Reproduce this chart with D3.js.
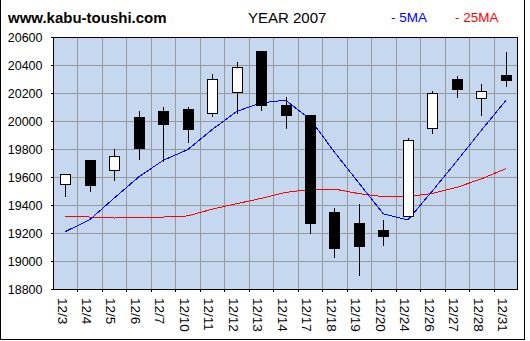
<!DOCTYPE html>
<html>
<head>
<meta charset="utf-8">
<script src="https://cdn.jsdelivr.net/npm/d3@7/dist/d3.min.js"></script>
<style>
  html, body { margin: 0; padding: 0; background: #fff; }
  svg { display: block; font-family: "Liberation Sans", Arial, sans-serif; }
</style>
</head>
<body>
<svg id="chart" width="530" height="341"></svg>
<script>
// Daily candles, December 2007
const dates = ["12/3","12/4","12/5","12/6","12/7","12/10","12/11","12/12","12/13","12/14",
               "12/17","12/18","12/19","12/20","12/24","12/26","12/27","12/28","12/31"];
const openVals  = [19550,19715,19643,20025,20065,20080,20057,20207,20500,20110,
                   20040,19345,19265,19215,19320,19947,20300,20160,20325];
const highVals  = [19625,19715,19800,20070,20100,20100,20338,20424,20500,20175,
                   20040,19380,19405,19295,19880,20216,20325,20265,20490];
const lowVals   = [19455,19490,19570,19725,19710,19840,20026,20052,20070,19940,
                   19190,19020,18895,19110,19320,19904,20165,20035,20245];
const closeVals = [19615,19540,19745,19805,19975,19940,20293,20379,20110,20040,
                   19270,19090,19105,19175,19860,20195,20225,20210,20290];
// Moving averages
const ma5  = [19210,19295,19449,19600,19719,19795,19938,20068,20130,20148,
              20015,19778,19557,19336,19293,19500,19714,19933,20145];
const ma25 = [19321,19314,19307,19314,19314,19322,19370,19409,19447,19490,
              19511,19514,19481,19459,19459,19483,19526,19586,19659];
const yTicks = [18800,19000,19200,19400,19600,19800,20000,20200,20400,20600];

const svg = d3.select("#chart");
const L = 53, R = 518, T = 37, B = 289;

const x = d3.scaleBand().domain(dates).range([L, R]).padding(0);
const y = d3.scaleLinear().domain([18800, 20600]).range([B, T]);
const cx = d => x(d) + x.bandwidth() / 2;

// outer frame
const frame = svg.append("g").attr("stroke", "#000").attr("stroke-width", 1).attr("shape-rendering", "crispEdges");
frame.append("line").attr("x1", 0.5).attr("x2", 0.5).attr("y1", 0).attr("y2", 340);
frame.append("line").attr("x1", 524.5).attr("x2", 524.5).attr("y1", 0).attr("y2", 340);
frame.append("line").attr("x1", 0).attr("x2", 525).attr("y1", 339.5).attr("y2", 339.5);

// plot background
svg.append("rect").attr("x", L).attr("y", T).attr("width", R - L).attr("height", B - T)
  .attr("fill", "#c6d7f0");

// grid
const grid = svg.append("g").attr("stroke", "#999").attr("stroke-width", 1).attr("shape-rendering", "crispEdges");
dates.slice(1).forEach(d => {
  const gx = Math.round(x(d)) + 0.5;
  grid.append("line").attr("x1", gx).attr("x2", gx).attr("y1", T).attr("y2", B);
});
yTicks.slice(1, -1).forEach(v => {
  const gy = Math.round(y(v)) + 0.5;
  grid.append("line").attr("x1", L).attr("x2", R).attr("y1", gy).attr("y2", gy);
});

// axes
const yAxis = d3.axisLeft(y).tickValues(yTicks).tickSize(3).tickPadding(8).tickFormat(d3.format("d"));
const gy = svg.append("g").attr("transform", `translate(${L + 0.5},0)`).call(yAxis);
gy.select(".domain").remove();
gy.selectAll("text").attr("font-size", "12.5px").attr("fill", "#000")
  .attr("font-family", "'Liberation Sans', Arial, sans-serif");
gy.selectAll("line").attr("shape-rendering", "crispEdges");

const xAxis = d3.axisBottom(x).tickSize(0).tickFormat(d => d);
const gx = svg.append("g").attr("transform", `translate(0,${B})`).call(xAxis);
gx.select(".domain").remove();
gx.selectAll(".tick line").remove();
gx.selectAll("text")
  .attr("font-size", "13.5px").attr("fill", "#000")
  .attr("font-family", "'Liberation Sans', Arial, sans-serif")
  .attr("text-anchor", "start")
  .attr("transform", "translate(-3,9) rotate(90)")
  .attr("x", 0).attr("y", 0).attr("dy", "0.35em");

// small ticks below the x axis at grid positions
const xt = svg.append("g").attr("stroke", "#000").attr("shape-rendering", "crispEdges");
dates.slice(1).forEach(d => {
  const tx = Math.round(x(d)) + 0.5;
  xt.append("line").attr("x1", tx).attr("x2", tx).attr("y1", B).attr("y2", B + 3);
});

// plot border
svg.append("rect").attr("x", L + 0.5).attr("y", T + 0.5).attr("width", R - L - 1).attr("height", B - T)
  .attr("fill", "none").attr("stroke", "#000").attr("shape-rendering", "crispEdges");

// moving averages
const line = d3.line().x((v, i) => cx(dates[i])).y(v => y(v));
svg.append("path").datum(ma25).attr("d", line).attr("fill", "none")
  .attr("stroke", "#ff0000").attr("stroke-width", 1).attr("shape-rendering", "crispEdges");
svg.append("path").datum(ma5).attr("d", line).attr("fill", "none")
  .attr("stroke", "#0000ff").attr("stroke-width", 1).attr("shape-rendering", "crispEdges");

// candles
const candles = svg.append("g").attr("shape-rendering", "crispEdges");
dates.forEach((d, i) => {
  const c = Math.round(cx(d)) + 0.5;
  const up = closeVals[i] >= openVals[i];
  candles.append("line").attr("x1", c).attr("x2", c)
    .attr("y1", y(highVals[i])).attr("y2", y(lowVals[i])).attr("stroke", "#000");
  const top = y(Math.max(openVals[i], closeVals[i]));
  const bot = y(Math.min(openVals[i], closeVals[i]));
  candles.append("rect").attr("x", c - 5).attr("y", top)
    .attr("width", 10).attr("height", Math.max(1, bot - top))
    .attr("fill", up ? "#fff" : "#000").attr("stroke", "#000");
});

// header
svg.append("text").attr("x", 8).attr("y", 23).attr("font-size", "15px").attr("font-weight", "bold")
  .attr("fill", "#000").text("www.kabu-toushi.com");
svg.append("text").attr("x", 248).attr("y", 23).attr("font-size", "15px")
  .attr("fill", "#000").text("YEAR 2007");
svg.append("text").attr("x", 391).attr("y", 22).attr("font-size", "13.5px")
  .attr("fill", "#0000ff").text("- 5MA");
svg.append("text").attr("x", 455).attr("y", 22).attr("font-size", "13.5px")
  .attr("fill", "#ff0000").text("- 25MA");
</script>
</body>
</html>
